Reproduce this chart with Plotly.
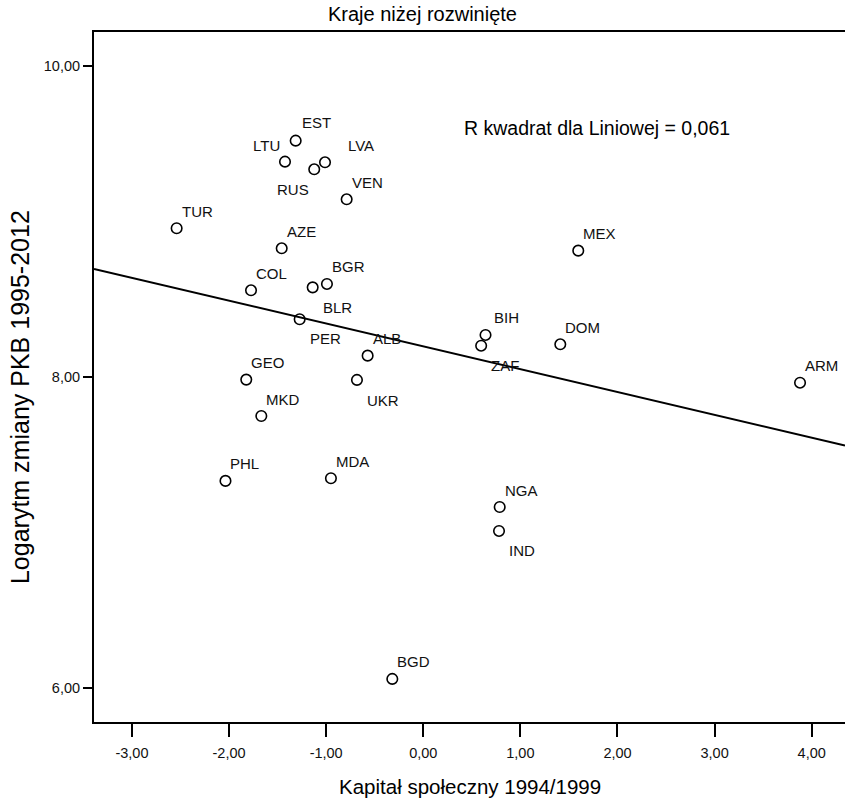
import numpy as np
import plotly.graph_objects as go

# ---- data ----
countries = ["EST", "LTU", "LVA", "RUS", "VEN", "TUR", "AZE", "COL", "BLR", "BGR",
             "PER", "GEO", "MKD", "ALB", "UKR", "PHL", "MDA", "BIH", "ZAF", "NGA",
             "IND", "MEX", "DOM", "ARM", "BGD"]
social_capital = [-1.314, -1.424, -1.012, -1.123, -0.789, -2.540, -1.458, -1.774, -1.139, -0.992,
                  -1.273, -1.823, -1.668, -0.573, -0.683, -2.037, -0.951, 0.641, 0.596, 0.787,
                  0.780, 1.596, 1.411, 3.880, -0.319]
log_gdp_change = [9.520, 9.385, 9.381, 9.336, 9.143, 8.957, 8.828, 8.558, 8.577, 8.599,
                  8.372, 7.984, 7.750, 8.138, 7.982, 7.333, 7.350, 8.271, 8.202, 7.165,
                  7.011, 8.813, 8.211, 7.964, 6.060]

x_tick_vals = [-3, -2, -1, 0, 1, 2, 3, 4]
x_tick_text = ["-3,00", "-2,00", "-1,00", "0,00", "1,00", "2,00", "3,00", "4,00"]
y_tick_vals = [6, 8, 10]
y_tick_text = ["6,00", "8,00", "10,00"]

title_text = "Kraje niżej rozwinięte"
x_title = "Kapitał społeczny 1994/1999"
y_title = "Logarytm zmiany PKB 1995-2012"
r2_text = "R kwadrat dla Liniowej = 0,061"

# ---- styling / label placement (not data) ----
X_RANGE = [-3.391, 4.343]
Y_RANGE = [5.783, 10.2185]
FONT = "Liberation Sans, Arial, sans-serif"

# (anchor, xshift px, yshift px downwards)
label_pos = {
    "EST": ("left", 4, -18), "LTU": ("right", -3, -16), "LVA": ("left", 21, -17),
    "RUS": ("right", -3, 20), "BLR": ("left", 8, 20), "PER": ("left", 8, 19),
    "UKR": ("left", 8, 21), "ZAF": ("left", 8, 20), "IND": ("left", 8, 20),
    "BIH": ("left", 6, -17),
}
default_pos = ("left", 3, -17)

# ---- regression fit from the data ----
slope, intercept = np.polyfit(social_capital, log_gdp_change, 1)
fit_x = np.array(X_RANGE)
fit_y = intercept + slope * fit_x

fig = go.Figure()
fig.add_trace(go.Scatter(
    x=fit_x, y=fit_y, mode="lines",
    line=dict(color="black", width=2), hoverinfo="skip", showlegend=False,
))
fig.add_trace(go.Scatter(
    x=social_capital, y=log_gdp_change, mode="markers",
    marker=dict(symbol="circle-open", size=10.5, color="black", line=dict(width=1.6)),
    text=countries, showlegend=False,
))

annotations = []
for name, xv, yv in zip(countries, social_capital, log_gdp_change):
    anchor, dx, dy = label_pos.get(name, default_pos)
    annotations.append(dict(
        x=xv, y=yv, xref="x", yref="y", text=name, showarrow=False,
        xanchor=anchor, yanchor="middle", xshift=dx, yshift=-dy,
        font=dict(family=FONT, size=15, color="#111"),
    ))

annotations += [
    dict(x=0.6698, y=0.8609, xref="paper", yref="paper", text=r2_text, showarrow=False,
         xanchor="center", yanchor="middle", font=dict(family=FONT, size=19.5, color="black")),
    dict(x=0.5, y=-0.0942, xref="paper", yref="paper", text=x_title, showarrow=False,
         xanchor="center", yanchor="middle", font=dict(family=FONT, size=20.5, color="black")),
    dict(x=-0.0985, y=0.471, xref="paper", yref="paper", text=y_title, showarrow=False,
         textangle=-90, xanchor="center", yanchor="middle",
         font=dict(family=FONT, size=25, color="black")),
]

fig.update_layout(
    width=845, height=800, autosize=False,
    margin=dict(l=94, r=0, t=32, b=78, pad=0),
    paper_bgcolor="white", plot_bgcolor="white",
    title=dict(text=title_text, x=0.5, xref="container", y=1 - 14 / 800, yref="container",
               xanchor="center", yanchor="middle", font=dict(family=FONT, size=20, color="black")),
    annotations=annotations,
    font=dict(family=FONT, color="black"),
)
fig.update_xaxes(
    range=X_RANGE, tickvals=x_tick_vals, ticktext=x_tick_text,
    showgrid=False, zeroline=False, showline=True, linecolor="black", linewidth=2,
    mirror=True, ticks="outside", ticklen=13, tickwidth=2, tickcolor="black",
    ticklabelstandoff=4,
    tickfont=dict(family=FONT, size=14.5, color="#111"),
)
fig.update_yaxes(
    range=Y_RANGE, tickvals=y_tick_vals, ticktext=y_tick_text,
    showgrid=False, zeroline=False, showline=True, linecolor="black", linewidth=2,
    mirror=False, ticks="outside", ticklen=9, tickwidth=2, tickcolor="black",
    tickfont=dict(family=FONT, size=14.5, color="#111"),
)

fig.write_html("out.html", config={"displayModeBar": False},
               post_script="document.body.style.margin='0';")
